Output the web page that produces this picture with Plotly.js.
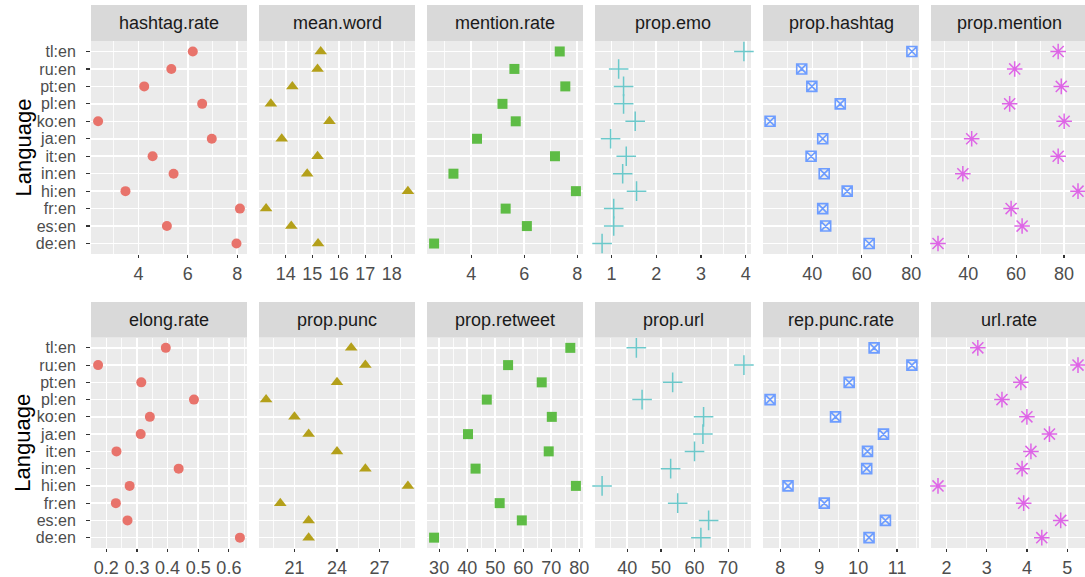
<!DOCTYPE html>
<html>
<head>
<meta charset="utf-8">
<script src="https://cdn.plot.ly/plotly-3.0.1.min.js"></script>
<style>html,body{margin:0;padding:0;background:#fff;}#chart{width:1085px;height:577px;}</style>
</head>
<body>
<div id="chart"></div>
<script>
// Languages (bottom to top)
const languages = ['de:en','es:en','fr:en','hi:en','in:en','it:en','ja:en','ko:en','pl:en','pt:en','ru:en','tl:en'];

// Panel names (facet order)
const panelNames = ['hashtag.rate','mean.word','mention.rate','prop.emo','prop.hashtag','prop.mention',
                    'elong.rate','prop.punc','prop.retweet','prop.url','rep.punc.rate','url.rate'];

// Values per panel, ordered as languages
const hashtagRate = [7.97, 5.15, 8.11, 3.47, 5.42, 4.57, 6.97, 2.36, 6.58, 4.23, 5.33, 6.20];
const meanWord    = [15.22, 14.21, 13.26, 18.61, 14.81, 15.20, 13.85, 15.65, 13.44, 14.25, 15.20, 15.32];
const mentionRate = [2.60, 6.10, 5.30, 7.95, 3.33, 7.16, 4.22, 5.68, 5.18, 7.55, 5.63, 7.34];
const propEmo     = [0.79, 1.05, 1.05, 1.56, 1.25, 1.33, 0.98, 1.53, 1.27, 1.27, 1.16, 3.96];
const propHashtag = [63.0, 45.4, 44.2, 54.1, 44.8, 39.5, 44.2, 22.9, 51.3, 39.8, 35.7, 80.3];
const propMention = [27.3, 62.5, 57.9, 85.9, 37.7, 77.6, 41.4, 80.1, 57.3, 78.9, 59.4, 77.6];
const elongRate   = [0.636, 0.269, 0.231, 0.276, 0.436, 0.233, 0.312, 0.342, 0.486, 0.314, 0.173, 0.394];
const propPunc    = [22.0, 22.0, 20.0, 29.0, 26.0, 24.0, 22.0, 21.0, 19.0, 24.0, 26.0, 25.0];
const propRetweet = [28.2, 59.5, 51.6, 78.8, 43.0, 69.1, 40.3, 70.2, 47.0, 66.6, 54.6, 76.8];
const propUrl     = [61.9, 64.2, 55.0, 32.5, 52.9, 60.0, 62.5, 62.7, 44.4, 53.5, 74.7, 42.7];
const repPuncRate = [10.28, 10.70, 9.13, 8.20, 10.22, 10.24, 10.65, 9.42, 7.74, 9.77, 11.38, 10.41];
const urlRate     = [4.37, 4.84, 3.92, 1.79, 3.88, 4.10, 4.56, 4.00, 3.38, 3.85, 5.27, 2.78];

// Tick labels per panel
const ticksHashtagRate = [4, 6, 8];
const ticksMeanWord    = [14, 15, 16, 17, 18];
const ticksMentionRate = [4, 6, 8];
const ticksPropEmo     = [1, 2, 3, 4];
const ticksPropHashtag = [20, 40, 60, 80];
const ticksPropMention = [40, 60, 80];
const ticksElongRate   = [0.2, 0.3, 0.4, 0.5, 0.6];
const ticksPropPunc    = [21, 24, 27];
const ticksPropRetweet = [30, 40, 50, 60, 70, 80];
const ticksPropUrl     = [40, 50, 60, 70];
const ticksRepPunc     = [8, 9, 10, 11];
const ticksUrlRate     = [2, 3, 4, 5];

const panelValues = [hashtagRate, meanWord, mentionRate, propEmo, propHashtag, propMention,
                     elongRate, propPunc, propRetweet, propUrl, repPuncRate, urlRate];
const panelTicks = [ticksHashtagRate, ticksMeanWord, ticksMentionRate, ticksPropEmo, ticksPropHashtag, ticksPropMention,
                    ticksElongRate, ticksPropPunc, ticksPropRetweet, ticksPropUrl, ticksRepPunc, ticksUrlRate];

// Styling
const W = 1085, H = 577;
const px = x => x / W;
const py = y => 1 - y / H;
const colLeft = [91, 259, 427, 595, 763, 931];
const colWidth = 156;
const rows = [
  {stripTop: 5, plotTop: 41, plotBot: 254},
  {stripTop: 302, plotTop: 337.5, plotBot: 548}
];
const markerStyles = [
  {symbol: 'circle', color: '#E8736B', size: 10, line: {width: 0}},
  {symbol: 'triangle-up', color: '#B4A01A', size: 11, line: {width: 0}},
  {symbol: 'square', color: '#5EBC45', size: 10, line: {width: 0}},
  {symbol: 'cross-thin-open', color: '#6CC9CB', size: 14, line: {width: 1.5, color: '#6CC9CB'}},
  {symbol: 'square-x-open', color: '#6E9DFF', size: 10, line: {width: 1.6, color: '#6E9DFF'}},
  {symbol: 'asterisk-open', color: '#DE66E6', size: 13, line: {width: 1.5, color: '#DE66E6'}}
];

const FONT = 'Liberation Sans, Arial, Helvetica, sans-serif';
const data = [];
const layout = {
  width: W, height: H,
  margin: {l: 0, r: 0, t: 0, b: 0},
  paper_bgcolor: '#ffffff',
  plot_bgcolor: '#EBEBEB',
  showlegend: false,
  font: {family: FONT, size: 18, color: '#4D4D4D'},
  shapes: [], annotations: []
};

panelNames.forEach((name, i) => {
  const r = Math.floor(i / 6), c = i % 6;
  const vals = panelValues[i];
  const mn = Math.min(...vals), mx = Math.max(...vals);
  const pad = 0.05 * (mx - mn);
  const xa = 'xaxis' + (i + 1), ya = 'yaxis' + (i + 1);
  const xs = 'x' + (i + 1), ys = 'y' + (i + 1);
  const row = rows[r];
  const x0 = px(colLeft[c]), x1 = Math.min(1, px(colLeft[c] + colWidth));
  const st = markerStyles[c];
  const tv = panelTicks[i];
  const step = tv[1] - tv[0];
  const minorVals = [tv[0] - step / 2].concat(tv.map(t => t + step / 2));

  data.push({
    type: 'scatter', mode: 'markers',
    x: vals, y: languages,
    xaxis: xs, yaxis: ys,
    marker: {symbol: st.symbol, color: st.color, size: st.size, line: st.line},
    cliponaxis: false,
    hoverinfo: 'x+y'
  });

  layout[xa] = {
    domain: [x0, x1], anchor: ys,
    range: [mn - pad, mx + pad],
    tickmode: 'array', tickvals: tv, ticktext: tv.map(String),
    showgrid: true, gridcolor: '#FFFFFF', gridwidth: 1.6,
    minor: {tickmode: 'array', tickvals: minorVals, showgrid: true, gridcolor: '#FFFFFF', gridwidth: 0.8, ticks: ''},
    zeroline: false, showline: false,
    ticks: 'outside', ticklen: 3, tickwidth: 1.2, tickcolor: '#333333',
    tickfont: {family: FONT, size: 18, color: '#4D4D4D'},
    fixedrange: true
  };
  layout[ya] = {
    domain: [py(row.plotBot), py(row.plotTop)], anchor: xs,
    type: 'category', categoryorder: 'array', categoryarray: languages,
    range: [-0.6, languages.length - 0.4],
    tickmode: 'array', tickvals: languages, ticktext: languages,
    showgrid: true, gridcolor: '#FFFFFF', gridwidth: 1.6,
    zeroline: false, showline: false,
    showticklabels: c === 0,
    ticks: c === 0 ? 'outside' : '', ticklen: 4, tickwidth: 1.2, tickcolor: '#333333',
    ticklabelstandoff: 7,
    tickfont: {family: FONT, size: 16, color: '#4D4D4D'},
    fixedrange: true
  };

  // facet strip
  layout.shapes.push({
    type: 'rect', xref: 'paper', yref: 'paper',
    x0: x0, x1: x1, y0: py(row.plotTop), y1: py(row.stripTop),
    fillcolor: '#D9D9D9', line: {width: 0}, layer: 'below'
  });
  layout.annotations.push({
    xref: 'paper', yref: 'paper',
    x: px(colLeft[c] + colWidth / 2), y: py((row.stripTop + row.plotTop) / 2),
    text: name, showarrow: false, xanchor: 'center', yanchor: 'middle',
    font: {family: FONT, size: 18, color: '#1A1A1A'}
  });
});

// Row y-axis titles
rows.forEach(row => {
  layout.annotations.push({
    xref: 'paper', yref: 'paper',
    x: px(23), y: py((row.plotTop + row.plotBot) / 2),
    text: 'Language', textangle: -90, showarrow: false,
    xanchor: 'center', yanchor: 'middle',
    font: {family: FONT, size: 22, color: '#000000'}
  });
});

Plotly.newPlot('chart', data, layout, {staticPlot: true, displayModeBar: false});
</script>
</body>
</html>
